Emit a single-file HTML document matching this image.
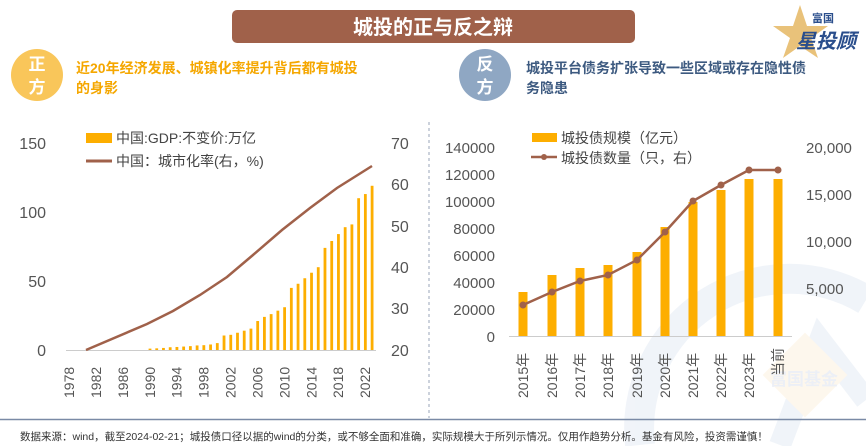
<!DOCTYPE html>
<html><head><meta charset="utf-8"><style>
body{margin:0;width:866px;height:446px;overflow:hidden;background:#fff;font-family:"Liberation Sans","Noto Sans CJK SC",sans-serif;}
svg{display:block}
</style></head><body>
<svg width="866" height="446" viewBox="0 0 866 446" xmlns="http://www.w3.org/2000/svg" font-family="Liberation Sans, Noto Sans CJK SC, sans-serif">
<g opacity="0.35">
<path d="M640 445 A150 150 0 0 1 866 300" stroke="#d6e0ee" stroke-width="30" fill="none"/>
<path d="M780 445 L820 340 L866 400" stroke="#d6e0ee" stroke-width="22" fill="none"/>
<rect x="775" y="345" width="60" height="60" transform="rotate(45 805 375)" fill="#fbeacc"/>
<text x="770" y="385" font-size="17" font-weight="bold" fill="#c9d4e6">富国基金</text>
</g>
<rect x="232" y="10" width="403" height="33" rx="5" fill="#a0614a"/>
<text x="433" y="34" font-size="20" font-weight="bold" fill="#fff" text-anchor="middle">城投的正与反之辩</text>
<polygon points="800,5 807,26 828,26 811,38 818,58 800,46 783,58 790,38 773,26 793,26" fill="#e9c27a"/>
<text x="812" y="22" font-size="11" font-weight="bold" fill="#2a4e8c">富国</text>
<text x="796" y="48" font-size="20" font-weight="bold" font-style="italic" fill="#2a4e8c">星投顾</text>
<circle cx="37" cy="75" r="26" fill="#f9c65a"/>
<text x="37" y="70" font-size="17" font-weight="bold" fill="#fff" text-anchor="middle">正</text>
<text x="37" y="93" font-size="17" font-weight="bold" fill="#fff" text-anchor="middle">方</text>
<text x="76" y="73" font-size="14" font-weight="bold" fill="#f5a700">近20年经济发展、城镇化率提升背后都有城投</text>
<text x="76" y="93" font-size="14" font-weight="bold" fill="#f5a700">的身影</text>
<circle cx="485" cy="75" r="26" fill="#8fa7c3"/>
<text x="485" y="70" font-size="17" font-weight="bold" fill="#fff" text-anchor="middle">反</text>
<text x="485" y="93" font-size="17" font-weight="bold" fill="#fff" text-anchor="middle">方</text>
<text x="526" y="73" font-size="14" font-weight="bold" fill="#3d5a80">城投平台债务扩张导致一些区域或存在隐性债</text>
<text x="526" y="93" font-size="14" font-weight="bold" fill="#3d5a80">务隐患</text>
<line x1="429" y1="122" x2="429" y2="418" stroke="#9aa6b8" stroke-dasharray="3,3"/>
<line x1="0" y1="419.5" x2="866" y2="419.5" stroke="#7a8aa6" stroke-width="1.5"/>
<text x="20" y="440" font-size="10.5" fill="#333">数据来源：wind，截至2024-02-21；城投债口径以据的wind的分类，或不够全面和准确，实际规模大于所列示情况。仅用作趋势分析。基金有风险，投资需谨慎！</text>
<g font-size="16" fill="#555">
<text x="46" y="149" text-anchor="end">150</text>
<text x="46" y="218" text-anchor="end">100</text>
<text x="46" y="287" text-anchor="end">50</text>
<text x="46" y="356" text-anchor="end">0</text>
<text x="391" y="149">70</text>
<text x="391" y="190">60</text>
<text x="391" y="232">50</text>
<text x="391" y="273">40</text>
<text x="391" y="314">30</text>
<text x="391" y="356">20</text>
</g>
<line x1="66" y1="350.5" x2="376" y2="350.5" stroke="#ccc"/>
<g id="lbars" fill="#fdae00"></g>
<g id="lyears" font-size="14" fill="#555"></g>
<polyline points="86,350 147,324 173,311 200,295 227,277 253,255 282,230 310,208 337,188 372,166" fill="none" stroke="#a0614a" stroke-width="2.5"/>
<rect x="86" y="133" width="26" height="10" fill="#fdae00"/>
<text x="116" y="143" font-size="14" fill="#444">中国:GDP:不变价:万亿</text>
<line x1="86" y1="161" x2="112" y2="161" stroke="#a0614a" stroke-width="3"/>
<text x="116" y="166" font-size="14" fill="#444">中国：城市化率(右，%)</text>
<g font-size="15" fill="#555">
<text x="495" y="153" text-anchor="end">140000</text>
<text x="495" y="180" text-anchor="end">120000</text>
<text x="495" y="207" text-anchor="end">100000</text>
<text x="495" y="234" text-anchor="end">80000</text>
<text x="495" y="261" text-anchor="end">60000</text>
<text x="495" y="288" text-anchor="end">40000</text>
<text x="495" y="315" text-anchor="end">20000</text>
<text x="495" y="342" text-anchor="end">0</text>
<text x="806" y="153">20,000</text>
<text x="806" y="200">15,000</text>
<text x="806" y="247">10,000</text>
<text x="806" y="294">5,000</text>
</g>
<line x1="509" y1="336.5" x2="792" y2="336.5" stroke="#ccc"/>
<g id="rbars" fill="#fdae00"></g>
<g id="ryears" font-size="14" fill="#555"></g>
<polyline fill="none" stroke="#a0614a" stroke-width="2.5" points="523,305 552,292 580,281 608,275 637,260 665,232 693,201 721,185 749,170 778,170"/>
<g id="rdots" fill="#a0614a"></g>
<rect x="532" y="133" width="25" height="9" fill="#fdae00"/>
<text x="561" y="143" font-size="14" fill="#444">城投债规模（亿元）</text>
<line x1="531" y1="157" x2="557" y2="157" stroke="#a0614a" stroke-width="2.5"/>
<circle cx="544" cy="157" r="3" fill="#a0614a"/>
<text x="561" y="163" font-size="14" fill="#444">城投债数量（只，右）</text>
</svg>
<script>
var NS="http://www.w3.org/2000/svg";
function el(t,a,p,txt){var e=document.createElementNS(NS,t);for(var k in a)e.setAttribute(k,a[k]);if(txt)e.textContent=txt;document.getElementById(p).appendChild(e);}
var g=[1,1.2,1.5,2,2.2,2.5,2.8,3.3,3.5,4,5,10.5,11,12.5,14,15.5,21,24,26,28.5,31,45,48,52,56,60,74,79,84,89,91,110,113,119];
for(var i=0;i<g.length;i++){var x=150+i*6.73,h=g[i]*1.38;el("rect",{x:x-1.4,y:350-h,width:2.8,height:h},"lbars");}
for(var y=1978;y<=2022;y+=4){var x=69+(y-1978)*6.73;el("text",{x:0,y:0,transform:"translate("+(x+5)+",398) rotate(-90)"},"lyears",""+y);}
var bx=[523,552,580,608,637,665,693,721,749,778],bt=[292,275,268,265,252,227,202,190,179,179];
var lbl=["2015年","2016年","2017年","2018年","2019年","2020年","2021年","2022年","2023年","当前"];
var ly=[305,292,281,275,260,232,201,185,170,170];
for(var i=0;i<10;i++){el("rect",{x:bx[i]-4.5,y:bt[i],width:9,height:336-bt[i]},"rbars");
el("circle",{cx:bx[i],cy:ly[i],r:3.5},"rdots");
el("text",{x:0,y:0,transform:"translate("+(bx[i]+5)+","+(i==9?376:398)+") rotate(-90)"},"ryears",lbl[i]);}
</script>
</body></html>
